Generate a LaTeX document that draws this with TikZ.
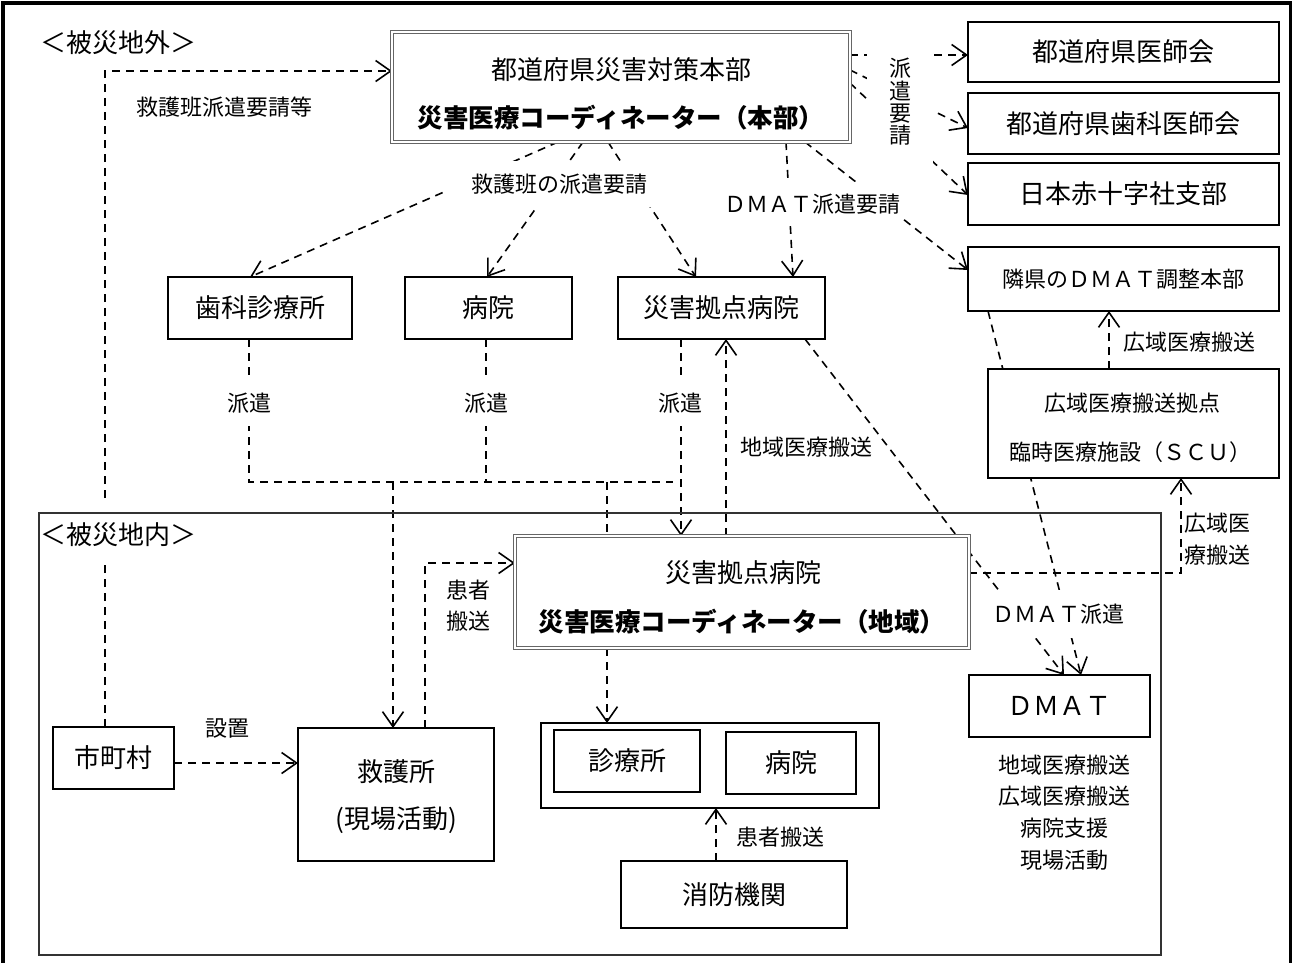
\documentclass[tikz,border=0pt]{standalone}
\usepackage{fontspec}
\setmainfont{Noto Sans CJK JP}
\usetikzlibrary{arrows.meta}
\pgfdeclarelayer{bg}
\pgfsetlayers{bg,main}
\begin{document}
\begin{tikzpicture}[x=1pt,y=-1pt,
  big/.style={font=\fontsize{26}{30}\selectfont},
  bigb/.style={font=\fontsize{25.5}{30}\selectfont\bfseries},
  small/.style={font=\fontsize{22}{26}\selectfont},
  box/.style={draw, line width=1.3pt, fill=white, inner sep=0pt, outer sep=0pt},
  dbox/.style={draw=black!60, line width=1pt, double=white, double distance=1.6pt, fill=white, inner sep=0pt, outer sep=0pt},
  txt/.style={inner sep=0pt},
  cut/.style={fill=white, inner xsep=3pt, inner ysep=13pt},
  link/.style={line width=1.6pt, dash pattern=on 8pt off 6pt},
  arr/.style={link, -{Straight Barb[length=15pt,width=21pt]}}
]
\useasboundingbox (0,0) rectangle (1293,962);
% outer frame
\draw[line width=3.5pt] (3,970) -- (3,3) -- (1290.5,3) -- (1290.5,970);
% inner region
\node[draw=black!80, line width=1.3pt, inner sep=0pt, minimum width=1122pt, minimum height=442pt] (region) at (600,734) {};
\node[txt, big] (lout) at (118,43) {＜被災地外＞};
\node[txt, big] (lin) at (118,535) {＜被災地内＞};

% HQ
\node[dbox, minimum width=458pt, minimum height=110pt] (hq) at (621,87) {};
\node[txt, big] (hqa) at (621,70) {都道府県災害対策本部};
\node[txt, bigb] (hqb) at (621,118) {災害医療コーディネーター（本部）};

% right column
\node[box, big, minimum width=311pt, minimum height=60pt] (doc) at (1123.5,52) {都道府県医師会};
\node[box, big, minimum width=311pt, minimum height=61pt] (dent) at (1123.5,123.5) {都道府県歯科医師会};
\node[box, big, minimum width=311pt, minimum height=62pt] (redc) at (1123.5,194) {日本赤十字社支部};
\node[box, small, minimum width=311pt, minimum height=64pt] (rind) at (1123.5,279) {隣県のＤＭＡＴ調整本部};
\node[box, minimum width=291pt, minimum height=109pt] (scu) at (1133.5,423.5) {};
\node[txt, small] (scua) at (1132,403) {広域医療搬送拠点};
\node[txt, small] (scub) at (1130,452) {臨時医療施設（ＳＣＵ）};

% middle row
\node[box, big, minimum width=184pt, minimum height=62pt] (shika) at (260,308) {歯科診療所};
\node[box, big, minimum width=167pt, minimum height=62pt] (byoin) at (488.5,308) {病院};
\node[box, big, minimum width=207pt, minimum height=62pt] (kyo) at (721.5,308) {災害拠点病院};

% inner hospital
\node[dbox, minimum width=454pt, minimum height=112pt] (ihosp) at (742,592) {};
\node[txt, big] (ihospa) at (743,573) {災害拠点病院};
\node[txt, bigb] (ihospb) at (742,622) {災害医療コーディネーター（地域）};

% lower area
\node[box, big, minimum width=121pt, minimum height=62pt] (shi) at (113.5,758) {市町村};
\node[box, minimum width=196pt, minimum height=133pt] (kyugo) at (396,794.5) {};
\node[txt, big] (kyugoa) at (396,772) {救護所};
\node[txt, big] (kyugob) at (396,820) {(現場活動)};
\node[box, minimum width=338pt, minimum height=85pt] (grp) at (710,765.5) {};
\node[box, big, minimum width=146pt, minimum height=62pt] (shin) at (627,761) {診療所};
\node[box, big, minimum width=130pt, minimum height=62pt] (byo2) at (791,763) {病院};
\node[box, big, minimum width=226pt, minimum height=67pt] (shobo) at (734,894.5) {消防機関};
\node[box, big, minimum width=181pt, minimum height=62pt] (dmat) at (1059.5,706) {ＤＭＡＴ};
\node[txt, small, align=center, font=\fontsize{22}{31.7}\selectfont] (dmatlist) at (1064,812.5)
  {地域医療搬送\\広域医療搬送\\病院支援\\現場活動};

% labels
\node[txt, small] (l1) at (224,107) {救護班派遣要請等};
\node[fill=white, inner sep=0pt, minimum width=66pt, minimum height=125pt, align=center,
  font=\fontsize{22}{22.3}\selectfont] (l2) at (900,102) {派\\遣\\要\\請};
\node[cut, small, inner xsep=25pt] (l3) at (559,184) {救護班の派遣要請};
\node[cut, small, inner ysep=12pt] (l4) at (812,204) {ＤＭＡＴ派遣要請};
\node[cut, small] (l5) at (249,403) {派遣};
\node[cut, small] (l6) at (486,403) {派遣};
\node[cut, small] (l7) at (680,403) {派遣};
\node[txt, small] (l8) at (806,447) {地域医療搬送};
\node[txt, small] (l9) at (1189,342) {広域医療搬送};
\node[txt, small, align=center, font=\fontsize{22}{32}\selectfont] (l10) at (1217,539) {広域医\\療搬送};
\node[txt, small, align=center, font=\fontsize{22}{31}\selectfont] (l11) at (468,606) {患者\\搬送};
\node[txt, small] (l12) at (227,728) {設置};
\node[txt, small] (l13) at (780,837) {患者搬送};
\node[cut, small, inner ysep=14pt] (l14) at (1058,614) {ＤＭＡＴ派遣};

% junction coordinates
\coordinate (g1) at (105,565);
\coordinate (g2) at (105,498);
\coordinate (j1) at (249,482);
\coordinate (j2) at (486,482);
\coordinate (j3) at (673,482);
\coordinate (j4) at (393,482);
\coordinate (j5) at (607,482);

\begin{pgfonlayer}{bg}
\draw[link] (105,0 |- shi.north) -- (g1);
\draw[arr] (g2) |- (hq.west |- 0,71);
\draw[arr] (hq.east |- 0,55) -- (doc.west |- 0,55);
\draw[arr] (hq.east |- 0,70) -- (dent.west |- 0,128);
\draw[arr] (hq.east |- 0,83) -- (redc.west |- 0,195);
\draw[arr] (805,0 |- hq.south) -- (rind.west |- 0,270);
\draw[arr] (786,0 |- hq.south) -- (793,0 |- kyo.north);
\draw[arr] (558,0 |- hq.south) -- (250,0 |- shika.north);
\draw[arr] (583,0 |- hq.south) -- (487,0 |- byoin.north);
\draw[arr] (608,0 |- hq.south) -- (696,0 |- kyo.north);
\draw[link] (249,0 |- shika.south) -- (j1) -- (j3);
\draw[link] (486,0 |- byoin.south) -- (j2);
\draw[arr] (681,0 |- kyo.south) -- (681,0 |- ihosp.north);
\draw[arr] (j4) -- (393,0 |- kyugo.north);
\draw[link] (j5) -- (607,0 |- ihosp.north);
\draw[arr] (726,0 |- ihosp.north) -- (726,0 |- kyo.south);
\draw[arr] (805,0 |- kyo.south) -- (1064,0 |- dmat.north);
\draw[arr] (988,0 |- rind.south) -- (1081,0 |- dmat.north);
\draw[arr] (ihosp.east |- 0,573) -| (1181,0 |- scu.south);
\draw[arr] (1109,0 |- scu.north) -- (1109,0 |- rind.south);
\draw[arr] (425,0 |- kyugo.north) |- (ihosp.west |- 0,563);
\draw[arr] (607,0 |- ihosp.south) -- (607,0 |- grp.north);
\draw[arr] (716,0 |- shobo.north) -- (716,0 |- grp.south);
\draw[arr] (shi.east |- 0,763) -- (kyugo.west |- 0,763);
\end{pgfonlayer}
\end{tikzpicture}
\end{document}
